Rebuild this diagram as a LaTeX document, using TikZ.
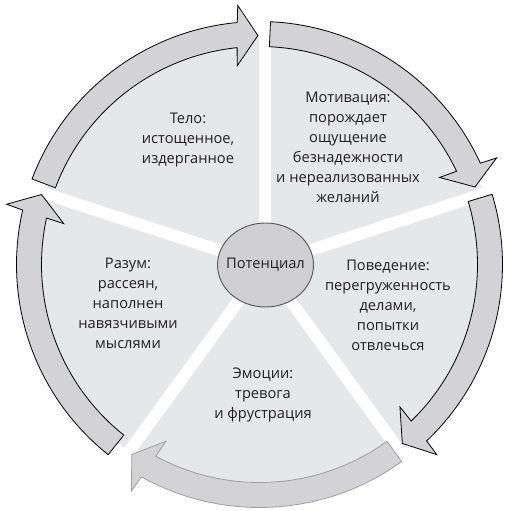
\documentclass[tikz,border=0pt]{standalone}
\usepackage{fontspec}
\setmainfont{Open Sans}
\usetikzlibrary{shapes.geometric}

\definecolor{sectorgray}{HTML}{E6E7E9}
\definecolor{arrowgray}{HTML}{D3D3D5}
\definecolor{coregray}{HTML}{D0D0D2}
\definecolor{inkgray}{HTML}{231F20}

% #1 style, #2 tail angle, #3 tip angle (clockwise)
\newcommand{\ringarrow}[3]{%
  \draw[#1] (#2:243) arc[start angle=#2, end angle=#3+4.85, radius=243]
    -- ({#3+4.4}:260) -- (#3:229) -- ({#3+6}:200) -- ({#3+5.5}:218)
    arc[start angle=#3+5.5, end angle=#2, radius=218] -- cycle;
}

\begin{document}
\begin{tikzpicture}[x=0.75pt, y=0.75pt]
    \tikzstyle{gap}=[white, line width=9pt]
    \tikzstyle{ring arrow}=[fill=arrowgray, draw=black, line width=0.6pt, line join=miter]
    \tikzstyle{faint arrow}=[ring arrow, draw=gray!75]
    \tikzstyle{core}=[ellipse, draw=black!65, fill=coregray, line width=0.7pt,
        minimum width=72pt, minimum height=63pt, inner sep=0pt, text=inkgray,
        font=\fontsize{11}{15}\selectfont]
    \tikzstyle{sector text}=[align=center, text=inkgray, font=\fontsize{11}{15}\selectfont]

    \useasboundingbox (0,0) rectangle (511,511);
    \coordinate (ring) at (259.5,246.5);
    \coordinate (hub) at (264.5,246);

    % sectors and gaps
    \fill[sectorgray] (hub) circle[radius=230];
    \foreach \a in {90,18,-54,-126,162}
        \draw[gap] (hub) -- ++(\a:250);

    % arrows round the cycle
    \begin{scope}[shift={(ring)}]
        \ringarrow{ring arrow}{159.4}{90.4}
        \ringarrow{ring arrow}{87.4}{19.8}
        \ringarrow{ring arrow}{16.8}{-51.4}
        \ringarrow{faint arrow}{-54.2}{-123.9}
        \ringarrow{ring arrow}{-128.5}{-197.8}
    \end{scope}

    \node[core] (potential) at (265.5,246) {\makebox[0pt]{Потенциал}};

    \node[sector text] (body) at (188,371) {Тело:\\истощенное,\\издерганное};
    \node[sector text] (motivation) at (348,364) {Мотивация:\\порождает\\ощущение\\безнадежности\\и нереализованных\\желаний};
    \node[sector text] (behaviour) at (388,206) {Поведение:\\перегруженность\\делами,\\попытки\\отвлечься};
    \node[sector text] (emotions) at (263,116) {Эмоции:\\тревога\\и фрустрация};
    \node[sector text] (mind) at (128,208) {Разум:\\рассеян,\\наполнен\\навязчивыми\\мыслями};
\end{tikzpicture}
\end{document}
